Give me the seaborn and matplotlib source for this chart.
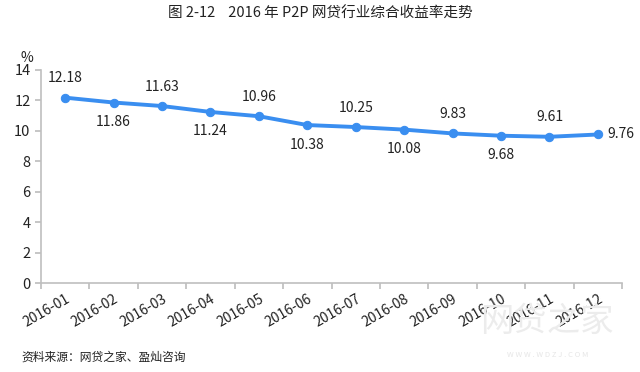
import matplotlib
matplotlib.use('Agg')
import matplotlib.pyplot as plt
import seaborn as sns
import pandas as pd

# data
months = ['2016-01', '2016-02', '2016-03', '2016-04', '2016-05', '2016-06',
          '2016-07', '2016-08', '2016-09', '2016-10', '2016-11', '2016-12']
rates = [12.18, 11.86, 11.63, 11.24, 10.96, 10.38, 10.25, 10.08, 9.83, 9.68, 9.61, 9.76]
label_pos = ['above', 'below', 'above', 'below', 'above', 'below',
             'above', 'below', 'above', 'below', 'above', 'right']

sns.set_theme(style='white')
plt.rcParams['font.family'] = ['Noto Sans CJK SC', 'DejaVu Sans']

df = pd.DataFrame({'month': months, 'rate': rates})
df['x'] = range(len(df))

fig = plt.figure(figsize=(6.4, 3.72), dpi=100)
ax = fig.add_axes([0.064, 0.239, 0.908, 0.573])

line_color = '#3a8ef0'
sns.lineplot(data=df, x='x', y='rate', ax=ax, color=line_color, linewidth=2.8,
             marker='o', markersize=6, markeredgecolor=line_color)

for i, (v, pos) in enumerate(zip(rates, label_pos)):
    if pos == 'above':
        ax.annotate(f'{v:.2f}', (i, v), xytext=(0, 9), textcoords='offset points',
                    ha='center', va='bottom', fontsize=10, color='#222222')
    elif pos == 'below':
        ax.annotate(f'{v:.2f}', (i, v), xytext=(0, -9), textcoords='offset points',
                    ha='center', va='top', fontsize=10, color='#222222')
    else:
        ax.annotate(f'{v:.2f}', (i, v), xytext=(7, 0), textcoords='offset points',
                    ha='left', va='center', fontsize=10, color='#222222')

ax.set_xlim(-0.5, len(months) - 0.5)
ax.set_ylim(0, 14)
ax.set_yticks(range(0, 15, 2))
ax.set_xticks([i - 0.5 for i in range(len(months) + 1)], minor=False)
ax.set_xticklabels([''] * (len(months) + 1))
ax.set_xticks(range(len(months)), minor=True)
ax.set_xticklabels(months, minor=True, rotation=30, ha='right', rotation_mode='anchor',
                   fontsize=10, color='#222222')
ax.tick_params(axis='x', which='minor', length=0, pad=6)
ax.tick_params(axis='x', which='major', length=4, color='#bfbfbf', direction='out')
ax.tick_params(axis='y', length=4, color='#bfbfbf', direction='out', labelsize=10.5,
               labelcolor='#222222')
ax.tick_params(bottom=True, left=True, which='both')
ax.tick_params(axis='x', which='minor', bottom=False)

for s in ['top', 'right']:
    ax.spines[s].set_visible(False)
for s in ['left', 'bottom']:
    ax.spines[s].set_color('#bfbfbf')
    ax.spines[s].set_linewidth(1.2)

ax.set_xlabel('')
ax.set_ylabel('')

fig.text(0.032, 0.845, '%', fontsize=10, color='#222222', ha='left', va='center')
fig.text(0.5, 0.963, '图 2-12    2016 年 P2P 网贷行业综合收益率走势', fontsize=10.5,
         color='#222222', ha='center', va='center')
fig.text(0.034, 0.04, '资料来源：网贷之家、盈灿咨询', fontsize=8.5, color='#222222',
         ha='left', va='center')

# faint watermark
fig.text(0.855, 0.135, '网贷之家', fontsize=24, color='#ececec', ha='center', va='center',
         zorder=0)
fig.text(0.855, 0.045, 'W W W . W D Z J . C O M', fontsize=5.5, color='#e6e6e6',
         ha='center', va='center', zorder=0)

fig.savefig('out.png', dpi=100)
